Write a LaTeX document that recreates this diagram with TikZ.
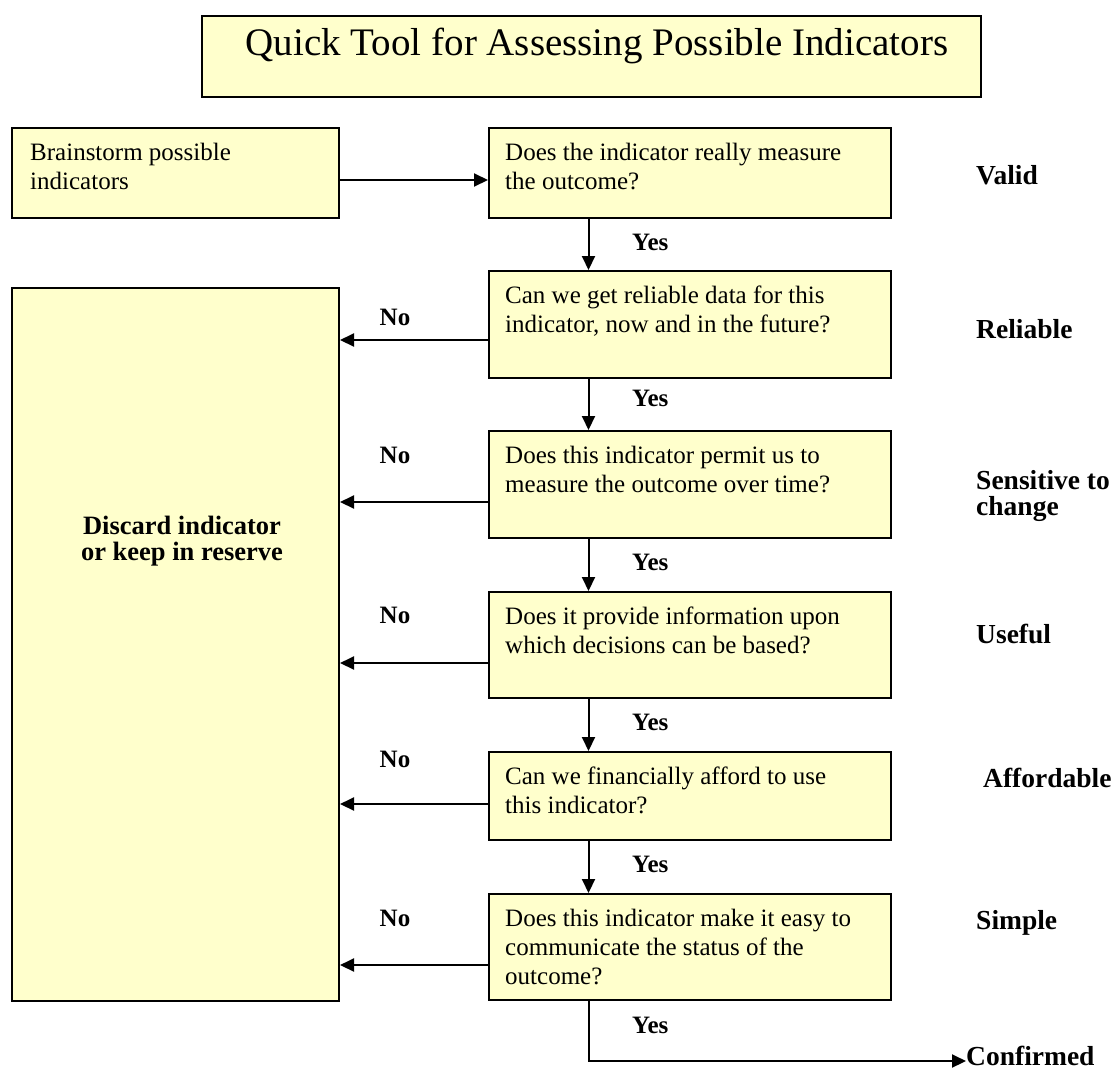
\documentclass[tikz,border=0pt]{standalone}
\usepackage{fontspec}
\setmainfont{Liberation Serif}
\usetikzlibrary{arrows.meta}
\definecolor{qyellow}{HTML}{FFFFCC}
\begin{document}
\begin{tikzpicture}[x=1pt,y=-1pt]
\tikzset{
  qbox/.style={draw=black, line width=2pt, fill=qyellow, rectangle, inner sep=0pt, anchor=north west},
  qtext/.style={anchor=north west, inner sep=0pt, align=left, font=\fontsize{25}{29}\selectfont},
  yn/.style={font=\bfseries\fontsize{25}{29}\selectfont, inner sep=0pt},
  side/.style={font=\bfseries\fontsize{27.5}{26}\selectfont, anchor=west, inner sep=0pt, align=left},
  flow/.style={line width=2pt, -{Triangle[length=14pt,width=13pt]}},
}
\useasboundingbox (0,0) rectangle (1115,1074);

% title
\node[qbox, minimum width=779pt, minimum height=81pt] (title) at (201,15) {};
\node[inner sep=0pt, font=\fontsize{39}{44}\selectfont] (titletext) at (597,46) {Quick Tool for Assessing Possible Indicators};

% left column
\node[qbox, minimum width=327pt, minimum height=90pt] (bs) at (11,127) {};
\node[qtext] (bst) at (30,140) {\strut Brainstorm possible\\indicators};
\node[qbox, minimum width=327pt, minimum height=713pt] (disc) at (11,287) {};
\node[yn, align=center, font=\bfseries\fontsize{26.5}{26}\selectfont] (disct) at (182,541) {Discard indicator\\or keep in reserve};

% question boxes
\node[qbox, minimum width=402pt, minimum height=90pt]  (b1) at (488,127) {};
\node[qbox, minimum width=402pt, minimum height=107pt] (b2) at (488,270) {};
\node[qbox, minimum width=402pt, minimum height=107pt] (b3) at (488,430) {};
\node[qbox, minimum width=402pt, minimum height=106pt] (b4) at (488,591) {};
\node[qbox, minimum width=402pt, minimum height=88pt]  (b5) at (488,751) {};
\node[qbox, minimum width=402pt, minimum height=106pt] (b6) at (488,893) {};

\node[qtext] (b1t) at (505,140) {\strut Does the indicator really measure\\the outcome?};
\node[qtext] (b2t) at (505,283) {\strut Can we get reliable data for this\\indicator, now and in the future?};
\node[qtext] (b3t) at (505,443) {\strut Does this indicator permit us to\\measure the outcome over time?};
\node[qtext] (b4t) at (505,604) {\strut Does it provide information upon\\which decisions can be based?};
\node[qtext] (b5t) at (505,764) {\strut Can we financially afford to use\\this indicator?};
\node[qtext] (b6t) at (505,906) {\strut Does this indicator make it easy to\\communicate the status of the\\outcome?};

% criteria
\node[side] (valid) at (976,175) {Valid};
\node[side] (reli)  at (976,329) {Reliable};
\node[side] (sens)  at (976,496) {Sensitive to\\change};
\node[side] (usef)  at (976,634) {Useful};
\node[side] (affo)  at (983,778) {Affordable};
\node[side] (simp)  at (976,923) {Simple};
\node[side] (conf)  at (966,1056) {Confirmed};

% yes / no labels
\node[yn, anchor=west] (y1) at (632,242) {Yes};
\node[yn, anchor=west] (y2) at (632,398) {Yes};
\node[yn, anchor=west] (y3) at (632,562) {Yes};
\node[yn, anchor=west] (y4) at (632,722) {Yes};
\node[yn, anchor=west] (y5) at (632,864) {Yes};
\node[yn, anchor=west] (y6) at (632,1025) {Yes};
\node[yn] (n2) at (395,317) {No};
\node[yn] (n3) at (395,455) {No};
\node[yn] (n4) at (395,615) {No};
\node[yn] (n5) at (395,759) {No};
\node[yn] (n6) at (395,918) {No};

% connectors
\coordinate (ax) at (588.5,0);
\draw[flow] (bs.east |- 0,180) -- (b1.west |- 0,180);
\draw[flow] (b1.south -| ax) -- (b2.north -| ax);
\draw[flow] (b2.south -| ax) -- (b3.north -| ax);
\draw[flow] (b3.south -| ax) -- (b4.north -| ax);
\draw[flow] (b4.south -| ax) -- (b5.north -| ax);
\draw[flow] (b5.south -| ax) -- (b6.north -| ax);
\draw[flow] (b6.south -| ax) |- ([yshift=-5pt]conf.west);
\draw[flow] (b2.west |- 0,340) -- (disc.east |- 0,340);
\draw[flow] (b3.west |- 0,502) -- (disc.east |- 0,502);
\draw[flow] (b4.west |- 0,663) -- (disc.east |- 0,663);
\draw[flow] (b5.west |- 0,804) -- (disc.east |- 0,804);
\draw[flow] (b6.west |- 0,965) -- (disc.east |- 0,965);
\end{tikzpicture}
\end{document}
